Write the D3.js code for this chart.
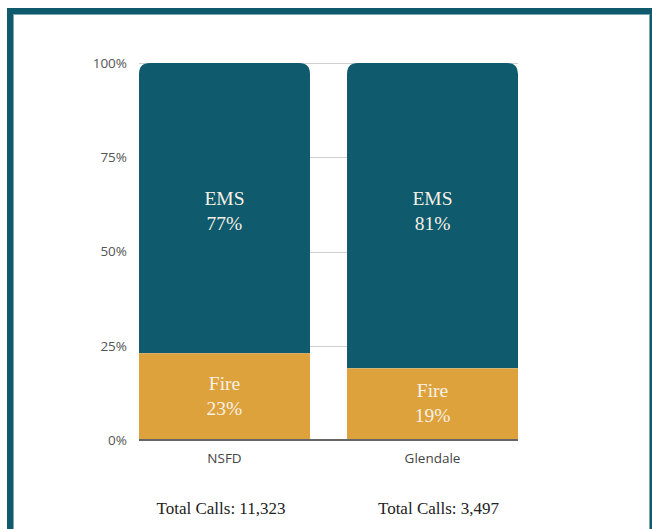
<!DOCTYPE html>
<html><head><meta charset="utf-8">
<script src="https://cdn.jsdelivr.net/npm/d3@7"></script>
<style>html,body{margin:0;padding:0;background:#fff;overflow:hidden}</style>
</head><body>
<svg id="chart" width="652" height="529"></svg>
<script>
const categories = ["NSFD", "Glendale"];
const fireValues = [0.23, 0.19];
const emsValues = [0.77, 0.81];
const fireLabels = ["23%", "19%"];
const emsLabels = ["77%", "81%"];
const totalLabels = ["Total Calls: 11,323", "Total Calls: 3,497"];
const yTicks = [0, 0.25, 0.5, 0.75, 1];
const yTickLabels = ["0%", "25%", "50%", "75%", "100%"];

const teal = "#0f5a6c", gold = "#dea23c";
const svg = d3.select("#chart");

// frame
svg.append("rect").attr("x", 10).attr("y", 11).attr("width", 643).attr("height", 600)
  .attr("fill", "none").attr("stroke", teal).attr("stroke-width", 6);
svg.append("rect").attr("x", 13.5).attr("y", 14.5).attr("width", 636).attr("height", 600)
  .attr("fill", "none").attr("stroke", "#7fa6b0").attr("stroke-width", 1);

const x = d3.scaleBand().domain(categories).range([139, 518]).paddingInner(0.178).paddingOuter(0);
const y = d3.scaleLinear().domain([0, 1]).range([440, 63]);
const x0 = x(categories[0]), x1 = x(categories[categories.length - 1]) + x.bandwidth();

// grid
const grid = svg.append("g");
grid.selectAll("line").data(yTicks.filter(d => d > 0)).join("line")
  .attr("x1", x0).attr("x2", x1).attr("y1", d => Math.round(y(d)) + 0.5).attr("y2", d => Math.round(y(d)) + 0.5)
  .attr("stroke", "#cfcfcf").attr("stroke-width", 1);

// y axis labels
const yAxis = d3.axisLeft(y).tickValues(yTicks).tickFormat((d, i) => yTickLabels[i]).tickSize(0).tickPadding(12);
const ya = svg.append("g").attr("transform", `translate(${x0},0)`).call(yAxis);
ya.select(".domain").remove();
ya.attr("font-size", null).attr("font-family", null);
ya.selectAll("text").style("font-family", "'Open Sans', sans-serif").style("font-size", "13.5px").attr("fill", "#555");

// bars
const r = 11;
function topRounded(xl, yt, w, yb, rad) {
  return `M${xl},${yb}V${yt + rad}Q${xl},${yt} ${xl + rad},${yt}H${xl + w - rad}Q${xl + w},${yt} ${xl + w},${yt + rad}V${yb}Z`;
}
categories.forEach((c, i) => {
  const bx = x(c), bw = x.bandwidth();
  svg.append("path").attr("d", topRounded(bx, y(fireValues[i] + emsValues[i]), bw, y(fireValues[i]), r)).attr("fill", teal);
  svg.append("rect").attr("x", bx).attr("y", y(fireValues[i])).attr("width", bw)
    .attr("height", y(0) - y(fireValues[i])).attr("fill", gold);
});

// baseline
svg.append("line").attr("x1", x0).attr("x2", x1).attr("y1", y(0)).attr("y2", y(0))
  .attr("stroke", "#666").attr("stroke-width", 2);

// segment labels
const serif = "'Liberation Serif', 'DejaVu Serif', serif";
function twoLine(cx, cy, l1, l2) {
  const t = svg.append("text").attr("text-anchor", "middle").attr("font-family", serif)
    .attr("font-size", 19.5).attr("fill", "#f6f1e6");
  t.append("tspan").attr("x", cx).attr("y", cy - 5).text(l1);
  t.append("tspan").attr("x", cx).attr("y", cy + 20).text(l2);
}
categories.forEach((c, i) => {
  const cx = x(c) + x.bandwidth() / 2;
  twoLine(cx, y(0.61), "EMS", emsLabels[i]);
  twoLine(cx, y(fireValues[i] / 2) - 2, "Fire", fireLabels[i]);
});

// category labels
const xAxis = d3.axisBottom(x).tickSize(0).tickPadding(13);
const xa = svg.append("g").attr("transform", `translate(0,${y(0)})`).call(xAxis);
xa.select(".domain").remove();
xa.attr("font-size", null).attr("font-family", null);
xa.selectAll("text").style("font-family", "'Open Sans', sans-serif").style("font-size", "13.5px").attr("fill", "#444");

// totals
const totOff = [-3.5, 6];
categories.forEach((c, i) => {
  svg.append("text").attr("x", x(c) + x.bandwidth() / 2 + totOff[i]).attr("y", 514)
    .attr("text-anchor", "middle").attr("font-family", serif).attr("font-size", 17)
    .attr("fill", "#222").text(totalLabels[i]);
});
</script>
</body></html>
